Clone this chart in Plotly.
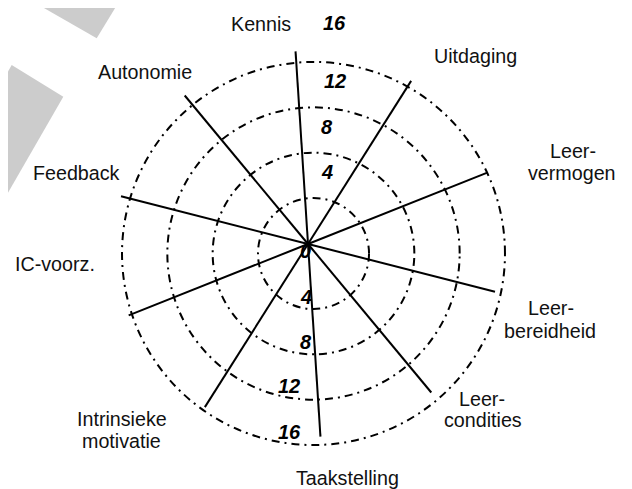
import plotly.graph_objects as go

# ---- chart content -------------------------------------------------------
CATEGORIES = ["Kennis", "Uitdaging", "Leer-<br>vermogen", "Leer-<br>bereidheid",
              "Leer-<br>condities", "Taakstelling", "Intrinsieke<br>motivatie",
              "IC-voorz.", "Feedback", "Autonomie"]
RING_VALUES = [4, 8, 12, 16]
TOP_TICK_LABELS = ["16", "12", "8", "4"]
BOTTOM_TICK_LABELS = ["0", "4", "8", "12", "16"]

# ---- layout helpers --------------------------------------------------------
PAGE_OFFSET = 8            # default body margin of the html page
W, H = 632 - PAGE_OFFSET, 489 - PAGE_OFFSET


def fx(x):
    return (x - PAGE_OFFSET) / W


def fy(y):
    return 1 - (y - PAGE_OFFSET) / H


# rings polar (circle centre / scale in px, page coordinates)
C1 = (313.5, 253.5)
R_MIN, R_MAX = -0.9, 16.1
PX_PER_UNIT = 11.33
R1 = (R_MAX - R_MIN) * PX_PER_UNIT
# spokes polar
C2 = (308.0, 244.0)
R2 = 193.0

FONT = "Liberation Sans, Arial, Helvetica, sans-serif"

# label anchor points (px), one per text line
LABEL_POS = [
    [(260.5, 24.2)],
    [(475.0, 55.5)],
    [(573.0, 150.8), (572.0, 172.7)],
    [(550.8, 307.5), (549.7, 330.5)],
    [(481.7, 399.2), (482.8, 420.3)],
    [(347.5, 477.5)],
    [(122.3, 419.4), (121.7, 440.5)],
    [(54.5, 264.2)],
    [(76.7, 172.5)],
    [(144.7, 72.5)],
]
TOP_TICK_POS = [(334.5, 22.7), (335.0, 81.0), (327.3, 126.7), (327.3, 171.7)]
BOTTOM_TICK_POS = [(305.0, 251.0), (305.7, 296.7), (305.7, 341.7), (289.3, 386.0), (289.3, 431.7)]

fig = go.Figure()

# invisible traces that establish both polar subplots
fig.add_trace(go.Scatterpolar(r=RING_VALUES, theta=[0] * len(RING_VALUES), mode="markers",
                              marker=dict(opacity=0), hoverinfo="skip", showlegend=False,
                              subplot="polar"))
fig.add_trace(go.Scatterpolar(r=[0] * len(CATEGORIES), theta=CATEGORIES, mode="markers",
                              marker=dict(opacity=0), hoverinfo="skip", showlegend=False,
                              subplot="polar2"))

annotations = []
for cat, pos in zip(CATEGORIES, LABEL_POS):
    for line, (x, y) in zip(cat.split("<br>"), pos):
        annotations.append(dict(x=fx(x), y=fy(y), xref="paper", yref="paper", text=line,
                                showarrow=False, xanchor="center", yanchor="middle",
                                font=dict(family=FONT, size=19.7, color="#111111")))
for lab, (x, y) in list(zip(TOP_TICK_LABELS, TOP_TICK_POS)) + list(zip(BOTTOM_TICK_LABELS, BOTTOM_TICK_POS)):
    annotations.append(dict(x=fx(x), y=fy(y), xref="paper", yref="paper", text=lab,
                            showarrow=False, xanchor="center", yanchor="middle",
                            font=dict(family=FONT, size=20, color="#000000",
                                      weight="bold", style="italic")))

shapes = [
    dict(type="path", xref="paper", yref="paper", layer="below",
         path=f"M {fx(30)} {fy(0)} L {fx(120)} {fy(0)} L {fx(96.7)} {fy(38.3)} Z",
         fillcolor="#cccccc", line=dict(width=0)),
    dict(type="path", xref="paper", yref="paper", layer="below",
         path=(f"M {fx(0)} {fy(85.4)} L {fx(11.7)} {fy(65)} L {fx(63.3)} {fy(96.7)} "
               f"L {fx(0)} {fy(206.7)} Z"),
         fillcolor="#cccccc", line=dict(width=0)),
]

fig.update_layout(
    width=W, height=H, margin=dict(l=0, r=0, t=0, b=0),
    paper_bgcolor="white", plot_bgcolor="white", showlegend=False,
    annotations=annotations, shapes=shapes,
    polar=dict(
        domain=dict(x=[fx(C1[0] - R1), fx(C1[0] + R1)], y=[fy(C1[1] + R1), fy(C1[1] - R1)]),
        bgcolor="rgba(0,0,0,0)",
        radialaxis=dict(range=[R_MIN, R_MAX], tickmode="array", tickvals=RING_VALUES,
                        showticklabels=False, ticks="", showline=False, showgrid=True,
                        gridcolor="black", gridwidth=1.6, griddash="8px,5px,2px,5px"),
        angularaxis=dict(showgrid=False, showline=False, showticklabels=False, ticks=""),
    ),
    polar2=dict(
        domain=dict(x=[fx(C2[0] - R2), fx(C2[0] + R2)], y=[fy(C2[1] + R2), fy(C2[1] - R2)]),
        bgcolor="rgba(0,0,0,0)",
        radialaxis=dict(range=[0, 1], showgrid=False, showline=False,
                        showticklabels=False, ticks=""),
        angularaxis=dict(type="category", categoryarray=CATEGORIES, rotation=93.7,
                         direction="clockwise", showgrid=True, gridcolor="black",
                         gridwidth=1.8, showline=False, showticklabels=False, ticks=""),
    ),
)

fig.write_html("out.html")
